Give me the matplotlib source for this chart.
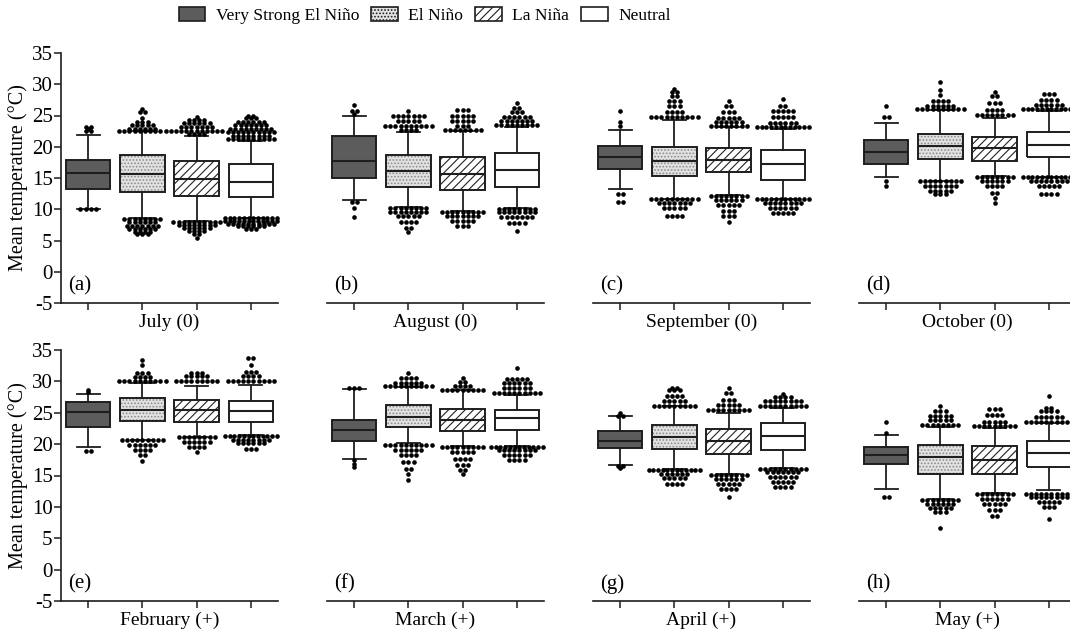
import numpy as np
import matplotlib.pyplot as plt
from matplotlib.patches import Patch

plt.rcParams['font.family'] = ['Liberation Serif', 'DejaVu Serif']
plt.rcParams['hatch.linewidth'] = 0.8
plt.rcParams['axes.unicode_minus'] = False

# DATA

GROUPS = ["Very Strong El Niño", "El Niño", "La Niña", "Neutral"]
MONTHS = ["July (0)", "August (0)", "September (0)", "October (0)",
          "February (+)", "March (+)", "April (+)", "May (+)"]
TAGS = ["(a)", "(b)", "(c)", "(d)", "(e)", "(f)", "(g)", "(h)"]

# box statistics, one list of 4 groups per panel
WLO = [[10.0, 8.6, 8.1, 8.6], [11.5, 10.3, 9.7, 10.2], [13.3, 11.6, 12.3, 11.6], [15.1, 14.6, 15.3, 15.2],
       [19.6, 20.7, 21.2, 21.4], [17.7, 20.1, 19.7, 19.7], [16.6, 16.0, 15.3, 16.2], [12.9, 11.3, 12.2, 12.7]]
Q1 = [[13.2, 12.7, 12.1, 12.0], [15.05, 13.6, 13.1, 13.5], [16.4, 15.4, 15.9, 14.7], [17.3, 18.0, 17.8, 18.4],
      [22.8, 23.7, 23.6, 23.6], [20.5, 22.8, 22.1, 22.2], [19.4, 19.3, 18.4, 19.0], [16.8, 15.3, 15.3, 16.3]]
MED = [[15.8, 15.6, 14.9, 14.4], [17.7, 16.2, 15.6, 16.3], [18.4, 17.8, 17.9, 17.2], [19.2, 20.2, 19.8, 20.3],
       [25.1, 25.5, 25.5, 25.2], [22.2, 24.4, 23.8, 24.1], [20.5, 21.2, 20.5, 21.3], [18.2, 18.0, 17.4, 18.6]]
Q3 = [[17.9, 18.7, 17.8, 17.2], [21.7, 18.7, 18.3, 19.05], [20.2, 20.0, 19.8, 19.5], [21.1, 22.1, 21.6, 22.4],
      [26.75, 27.4, 27.1, 26.9], [23.8, 26.2, 25.6, 25.5], [22.1, 23.0, 22.4, 23.4], [19.6, 19.8, 19.7, 20.5]]
WHI = [[21.9, 22.5, 21.8, 20.9], [25.0, 22.4, 22.5, 23.2], [22.7, 24.3, 23.2, 22.8], [23.8, 25.9, 24.6, 25.8],
       [28.0, 29.8, 29.3, 29.4], [28.8, 29.1, 28.6, 27.8], [24.5, 26.0, 25.0, 25.7], [21.4, 22.8, 22.6, 23.3]]

# outliers: (value, number of dots at that level) per group
OUT_A = [
    [(23.2, 2), (22.9, 1), (22.5, 2), (10.0, 4)],
    [(26.0, 1), (25.5, 2), (24.6, 1), (23.9, 3), (23.5, 5), (22.9, 6), (22.5, 10),
     (8.5, 8), (8.0, 6), (7.4, 7), (6.9, 6), (6.4, 4), (6.1, 3)],
    [(24.8, 1), (24.3, 4), (23.8, 6), (23.2, 7), (22.6, 11), (22.0, 4),
     (7.9, 10), (7.5, 8), (7.0, 6), (6.5, 4), (6.0, 2), (5.4, 1)],
    [(25.0, 2), (24.6, 3), (24.0, 6), (23.5, 7), (22.8, 9), (22.3, 10), (21.7, 8), (21.2, 10),
     (8.6, 12), (8.2, 12), (7.7, 10), (7.3, 6), (6.8, 3)],
]
OUT_B = [
    [(26.7, 1), (25.8, 2), (25.3, 1), (11.2, 2), (10.2, 1), (8.8, 1)],
    [(25.7, 1), (25.0, 7), (24.1, 5), (23.3, 10), (22.7, 4),
     (10.2, 8), (9.6, 8), (8.9, 5), (7.9, 4), (7.0, 2), (6.4, 1)],
    [(25.9, 3), (25.0, 5), (24.1, 5), (23.3, 3), (22.7, 8),
     (9.5, 9), (9.0, 7), (8.2, 5), (7.3, 3)],
    [(27.0, 1), (26.2, 2), (25.6, 3), (24.8, 6), (24.1, 7), (23.5, 9),
     (10.1, 8), (9.5, 8), (8.7, 7), (7.8, 4), (6.6, 1)],
]
OUT_C = [
    [(25.8, 1), (23.9, 1), (23.4, 1), (12.4, 2), (11.1, 2)],
    [(29.3, 1), (28.8, 2), (28.2, 2), (27.3, 3), (26.5, 3), (25.6, 4), (24.8, 10),
     (11.6, 10), (11.0, 7), (10.2, 5), (9.0, 4)],
    [(27.4, 1), (26.5, 2), (25.5, 3), (24.6, 5), (23.9, 6), (23.4, 8),
     (12.2, 8), (11.5, 6), (10.7, 5), (9.8, 3), (8.9, 3), (7.9, 1)],
    [(27.6, 1), (26.5, 2), (25.7, 5), (24.8, 5), (23.8, 6), (23.1, 12),
     (11.6, 12), (11.0, 8), (10.2, 6), (9.4, 5)],
]
OUT_D = [
    [(26.5, 1), (24.8, 2), (14.6, 1), (13.8, 1)],
    [(30.4, 1), (29.1, 1), (28.3, 1), (27.3, 4), (26.6, 6), (26.0, 10),
     (14.5, 9), (13.7, 7), (12.9, 5), (12.4, 3)],
    [(28.8, 1), (28.1, 2), (27.0, 3), (25.9, 4), (25.1, 8),
     (15.2, 8), (14.5, 6), (13.7, 4), (12.6, 2), (11.8, 1), (11.0, 1)],
    [(28.4, 3), (27.5, 4), (26.7, 6), (26.0, 12),
     (15.1, 12), (14.5, 8), (13.7, 5), (12.5, 4)],
]
OUT_E = [
    [(28.6, 1), (28.3, 1), (18.9, 2)],
    [(33.4, 1), (32.6, 1), (31.4, 3), (30.7, 4), (30.1, 10),
     (20.6, 9), (19.8, 6), (19.0, 4), (18.2, 2), (17.3, 1)],
    [(31.4, 3), (30.9, 5), (30.1, 9), (21.1, 8), (20.4, 6), (19.6, 4), (18.8, 1)],
    [(33.7, 2), (32.6, 1), (31.5, 3), (30.9, 4), (30.1, 10),
     (21.3, 12), (20.7, 8), (20.1, 6), (19.3, 3)],
]
OUT_F = [
    [(29.0, 3), (17.4, 1), (16.9, 1), (16.4, 1)],
    [(31.3, 1), (30.5, 4), (29.8, 6), (29.2, 10),
     (19.8, 10), (19.0, 6), (18.2, 4), (17.2, 3), (16.1, 2), (15.2, 1), (14.3, 1)],
    [(30.6, 1), (29.9, 2), (29.3, 4), (28.7, 9),
     (19.5, 9), (18.8, 5), (17.7, 4), (16.6, 3), (15.9, 2), (15.2, 1)],
    [(32.2, 1), (30.4, 5), (29.7, 6), (28.9, 6), (28.1, 10),
     (19.6, 12), (19.0, 8), (18.2, 6), (17.4, 4)],
]
OUT_G = [
    [(25.0, 1), (24.5, 2), (16.5, 2), (16.2, 1)],
    [(28.9, 2), (28.6, 3), (27.6, 4), (26.9, 5), (26.1, 9),
     (15.8, 12), (15.3, 6), (14.6, 5), (13.7, 4)],
    [(28.9, 1), (28.1, 2), (27.0, 3), (26.2, 5), (25.4, 9),
     (15.1, 8), (14.5, 6), (13.6, 5), (12.9, 4), (11.5, 1)],
    [(28.0, 1), (27.5, 4), (26.8, 8), (26.1, 10),
     (16.0, 10), (15.5, 7), (14.8, 6), (13.9, 5), (13.2, 4)],
]
OUT_H = [
    [(23.5, 1), (21.8, 1), (11.6, 2)],
    [(26.0, 1), (25.2, 3), (24.5, 5), (23.8, 5), (23.1, 8),
     (11.1, 8), (10.5, 6), (9.9, 5), (9.2, 3), (6.7, 1)],
    [(25.6, 3), (24.6, 4), (23.6, 5), (22.9, 9),
     (12.0, 8), (11.3, 6), (10.5, 5), (9.5, 3), (8.5, 2)],
    [(27.7, 1), (25.7, 2), (25.2, 4), (24.4, 6), (23.6, 10),
     (12.1, 10), (11.6, 8), (10.8, 5), (10.0, 3), (8.1, 1)],
]
OUTLIERS = [OUT_A, OUT_B, OUT_C, OUT_D, OUT_E, OUT_F, OUT_G, OUT_H]

# STYLE

FACE = ['#5c5c5c', '#e2e2e2', 'white', 'white']
HATCH = [None, '.....', '////', None]
HATCH_COLOR = ['#5c5c5c', '#8c8c8c', '#222222', 'white']
EDGE = '#1e1e1e'
POS = [1, 2, 3, 4]
WIDTH = 0.82
DX = 0.095

# FIGURE

fig = plt.figure(figsize=(10.7, 6.37), dpi=100)
W, H = 1070, 637
lefts = [61, 327, 593, 859]
rows = [(53, 303), (350, 601)]

axes = []
for r, (top, bot) in enumerate(rows):
    for c, lx in enumerate(lefts):
        ax = fig.add_axes([lx / W, 1 - bot / H, 217 / W, (bot - top) / H])
        axes.append(ax)

for k, ax in enumerate(axes):
    # box faces + hatching
    for i in range(4):
        ax.bar(POS[i], Q3[k][i] - Q1[k][i], bottom=Q1[k][i], width=WIDTH,
               color=FACE[i], edgecolor=HATCH_COLOR[i], hatch=HATCH[i],
               linewidth=0, zorder=1.5)

    stats = [dict(whislo=WLO[k][i], q1=Q1[k][i], med=MED[k][i],
                  q3=Q3[k][i], whishi=WHI[k][i], fliers=[]) for i in range(4)]
    ax.bxp(stats, positions=POS, widths=WIDTH, patch_artist=True,
           showfliers=False, capwidths=0.42,
           boxprops=dict(facecolor='none', edgecolor=EDGE, linewidth=1.4, zorder=2),
           medianprops=dict(color=EDGE, linewidth=1.5, zorder=3),
           whiskerprops=dict(color=EDGE, linewidth=1.3),
           capprops=dict(color=EDGE, linewidth=1.3))

    # outlier dots, spread sideways in rows
    for i, rows_i in enumerate(OUTLIERS[k]):
        for val, n in rows_i:
            dx = min(DX, 0.95 / max(n - 1, 1))
            xs = POS[i] + (np.arange(n) - (n - 1) / 2) * dx
            ax.scatter(xs, np.full(n, val), s=11, color='black',
                       linewidths=0, zorder=4, clip_on=False)

    ax.set_xlim(0.5, 4.5)
    ax.set_ylim(-5, 35)
    ax.set_xticks(POS)
    ax.set_xticklabels([])
    ax.tick_params(axis='x', direction='out', length=5, width=1.1, color=EDGE)
    ax.spines['top'].set_visible(False)
    ax.spines['right'].set_visible(False)
    ax.spines['bottom'].set_linewidth(1.2)
    ax.spines['bottom'].set_color(EDGE)

    if k % 4 == 0:
        ax.set_yticks(range(-5, 36, 5))
        ax.tick_params(axis='y', direction='out', length=5, width=1.1,
                       color=EDGE, labelsize=15, pad=1)
        ax.spines['left'].set_linewidth(1.2)
        ax.spines['left'].set_color(EDGE)
        ax.text(-0.198, 0.5, "Mean temperature (°C)", transform=ax.transAxes,
                rotation=90, ha='center', va='center', fontsize=14.5)
    else:
        ax.spines['left'].set_visible(False)
        ax.set_yticks([])

    ax.text(0.5, -0.076, MONTHS[k], transform=ax.transAxes,
            ha='center', va='center', fontsize=14)
    ax.text(0.63, -2.3, TAGS[k], ha='left', va='center', fontsize=15)

handles = [Patch(facecolor=FACE[i], edgecolor=EDGE, hatch=HATCH[i], linewidth=1.2)
           for i in range(4)]
fig.legend(handles, GROUPS, loc='center', bbox_to_anchor=(0.397, 0.975),
           ncol=4, frameon=False, fontsize=12.6, handlelength=1.5,
           handleheight=0.85, columnspacing=0.7, handletextpad=0.6)

fig.savefig("out.png", dpi=100)
